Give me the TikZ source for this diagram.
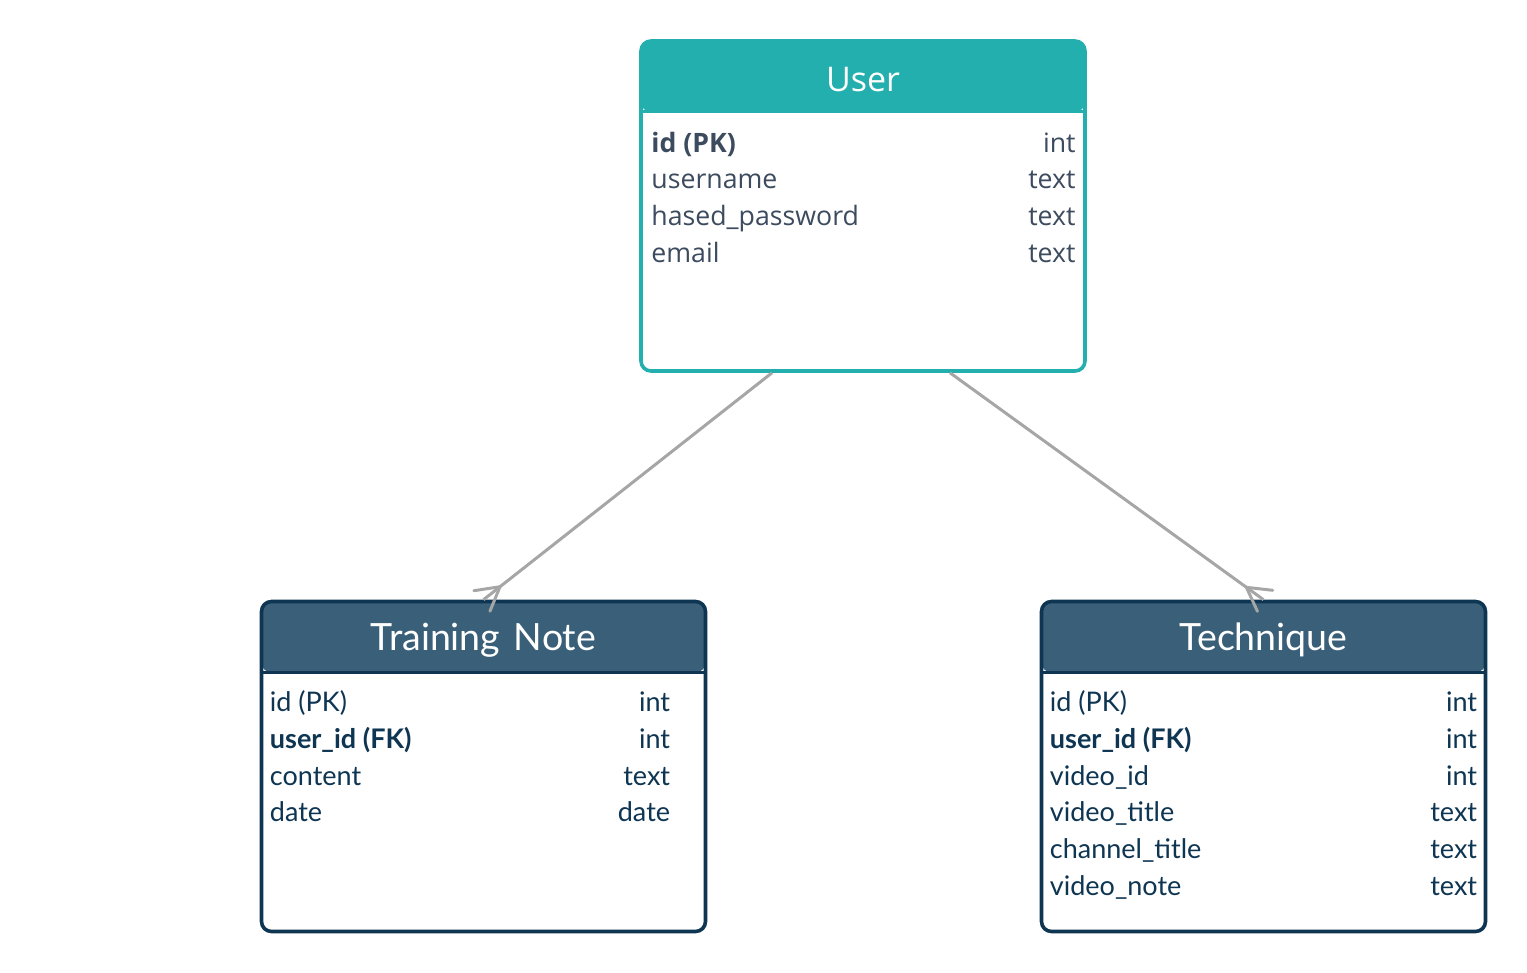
\documentclass[tikz,border=0pt]{standalone}
\usepackage{fontspec}
\setmainfont{Lato}
\newfontfamily\userfont{Open Sans}
\usepackage{tikz}
\usetikzlibrary{arrows.meta, positioning, calc, decorations.markings}
\definecolor{userteal}{HTML}{24AFAF}
\definecolor{noteblue}{HTML}{3A6079}
\definecolor{notenavy}{HTML}{0E3552}
\definecolor{userink}{HTML}{3D4B5F}
\definecolor{linkgray}{HTML}{A6A6A6}
\tikzstyle{entity} = [rectangle, rounded corners=10pt, line width=3.6pt, fill=white, minimum width=444pt, minimum height=330pt]
\tikzstyle{title} = [anchor=base, text=white, font=\fontsize{37.5}{40}\selectfont]
\tikzstyle{field} = [inner sep=0pt, font=\fontsize{27}{30}\selectfont]
\tikzstyle{link} = [line width=3pt, draw=linkgray, postaction={decorate, decoration={markings, mark=at position 1 with {
    \draw[linkgray, line width=3pt, line cap=round] (-21pt,0pt) -- (2pt,13pt) (-21pt,0pt) -- (2pt,-13pt);}}}]
\tikzset{header/.style 2 args={path picture={
    \fill[#1] (path picture bounding box.north west) rectangle ([yshift=-71pt]path picture bounding box.north east);
    \draw[#2, line width=3pt] ([yshift=-71pt]path picture bounding box.north west) -- ([yshift=-71pt]path picture bounding box.north east);}}}

\begin{document}
\begin{tikzpicture}[x=1pt, y=-1pt]
    \useasboundingbox (0,0) rectangle (1527,973);

    % Tables
    \node (user) [entity, draw=userteal, header={userteal}{userteal}] at (863,206) {};
    \node (note) [entity, draw=notenavy, header={noteblue}{notenavy}] at (483.5,766.5) {};
    \node (technique) [entity, draw=notenavy, header={noteblue}{notenavy}] at (1263.5,766.5) {};

    % Titles
    \node (user-title) [title, font=\userfont\fontsize{34}{40}\selectfont] at ([yshift=-52pt]user.north) {User};
    \node (note-title) [title] at ([yshift=-51pt]note.north) {Training\hspace{4pt} Note};
    \node (technique-title) [title] at ([yshift=-51pt]technique.north) {Technique};

    % Fields
    \foreach \fname/\ftype [count=\i] in {\textbf{id (PK)}/int, username/text, hased\_password/text, email/text} {
        \node (user-f\i) [field, font=\userfont\fontsize{26.7}{30}\selectfont, text=userink, anchor=base west] at ($(user.north west)+(12,{113+36.7*(\i-1)})$) {\fname};
        \node (user-t\i) [field, font=\userfont\fontsize{26.7}{30}\selectfont, text=userink, anchor=base east] at ($(user.north east)+(-11,{113+36.7*(\i-1)})$) {\ftype};
    }
    \foreach \fname/\ftype [count=\i] in {id (PK)/int, \textbf{user\_id (FK)}/int, content/text, date/date} {
        \node (note-f\i) [field, text=notenavy, anchor=base west] at ($(note.north west)+(10,{112+36.7*(\i-1)})$) {\fname};
        \node (note-t\i) [field, text=notenavy, anchor=base east] at ($(note.north east)+(-37,{112+36.7*(\i-1)})$) {\ftype};
    }
    \foreach \fname/\ftype [count=\i] in {id (PK)/int, \textbf{user\_id (FK)}/int, video\_id/int, video\_title/text, channel\_title/text, video\_note/text} {
        \node (technique-f\i) [field, text=notenavy, anchor=base west] at ($(technique.north west)+(10,{112+36.7*(\i-1)})$) {\fname};
        \node (technique-t\i) [field, text=notenavy, anchor=base east] at ($(technique.north east)+(-10,{112+36.7*(\i-1)})$) {\ftype};
    }

    % Relations
    \draw [link] ([xshift=-91pt]user.south) -- (note.north);
    \draw [link] ([xshift=87pt]user.south) -- (technique.north);
\end{tikzpicture}
\end{document}
